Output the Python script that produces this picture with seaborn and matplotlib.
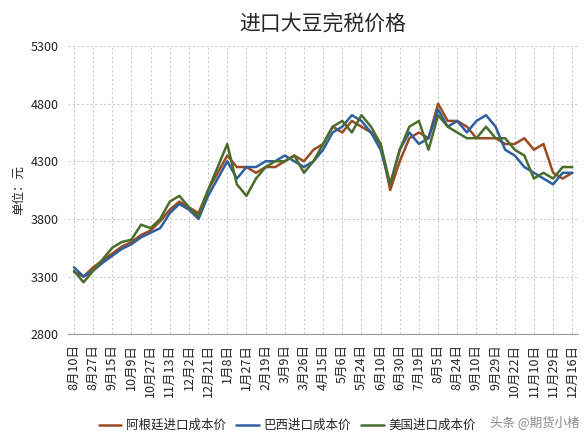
import matplotlib
matplotlib.use("Agg")
import matplotlib.pyplot as plt
import seaborn as sns
import pandas as pd
import numpy as np

tick_labels = ["8月10日","8月27日","9月15日","10月9日","10月27日","11月13日","12月2日","12月21日","1月8日","1月27日",
               "2月19日","3月9日","3月26日","4月15日","5月6日","5月24日","6月10日","6月30日","7月19日","8月5日",
               "8月24日","9月10日","9月29日","10月22日","11月10日","11月29日","12月16日"]
argentina = [3340,3300,3380,3440,3500,3560,3600,3660,3700,3780,3880,3950,3900,3850,4050,4200,4350,4250,4250,4200,
             4250,4250,4300,4350,4300,4400,4450,4600,4550,4650,4600,4550,4450,4050,4300,4500,4550,4500,4800,4650,
             4650,4600,4500,4500,4500,4450,4450,4500,4400,4450,4200,4150,4200]
brazil = [3380,3300,3350,3420,3480,3540,3580,3640,3680,3720,3850,3930,3880,3800,4000,4150,4300,4150,4250,4250,
          4300,4300,4350,4300,4250,4300,4400,4550,4600,4700,4650,4550,4400,4100,4400,4550,4450,4500,4750,4600,
          4650,4550,4650,4700,4600,4400,4350,4250,4200,4150,4100,4200,4200]
usa = [3350,3250,3350,3450,3550,3600,3620,3750,3720,3800,3950,4000,3900,3820,4050,4250,4450,4100,4000,4150,
       4250,4300,4300,4350,4200,4300,4450,4600,4650,4550,4700,4600,4450,4100,4400,4600,4650,4400,4700,4600,
       4550,4500,4500,4600,4500,4500,4400,4350,4150,4200,4150,4250,4250]
names = ["阿根廷进口成本价", "巴西进口成本价", "美国进口成本价"]
colors = ["#9a4b22", "#2f5f9e", "#4b6d2c"]

x = np.arange(len(argentina)) / 2.0
df = pd.DataFrame({"x": np.tile(x, 3),
                   "v": argentina + brazil + usa,
                   "s": np.repeat(names, len(x))})

sns.set_style("white")
plt.rcParams['font.family'] = ['Noto Sans CJK SC', 'DejaVu Sans']
fig = plt.figure(figsize=(5.88, 4.34), dpi=100)
ax = fig.add_axes([0.116, 0.23, 0.867, 0.664])
sns.lineplot(data=df, x="x", y="v", hue="s", palette=colors, linewidth=1.8, ax=ax, legend=True)
ax.set_ylim(2800, 5300)
ax.set_yticks([2800, 3300, 3800, 4300, 4800, 5300])
ax.set_xlim(-0.3, 26.3)
ax.set_xticks(range(len(tick_labels)))
ax.set_xticklabels(tick_labels, rotation=90, fontsize=9, color='#222222')
ax.tick_params(axis='y', labelsize=9, colors='#222222')
ax.grid(True, linestyle=(0, (2, 2)), color='#cccccc', linewidth=0.8)
for s in ["top", "right", "left"]:
    ax.spines[s].set_visible(False)
ax.spines["bottom"].set_color("#999999")
ax.set_xlabel("")
ax.set_ylabel("单位：元", fontsize=9)
ax.set_title("进口大豆完税价格", fontsize=15, pad=12)
ax.legend(loc="upper center", bbox_to_anchor=(0.43, -0.255), ncol=3, frameon=False,
          fontsize=9, handlelength=1.8, columnspacing=0.8, handletextpad=0.4)
fig.text(0.985, 0.008, "头条 @期货小楮", ha="right", va="bottom", fontsize=9, color="#888888")
fig.savefig("out.png", dpi=100)
